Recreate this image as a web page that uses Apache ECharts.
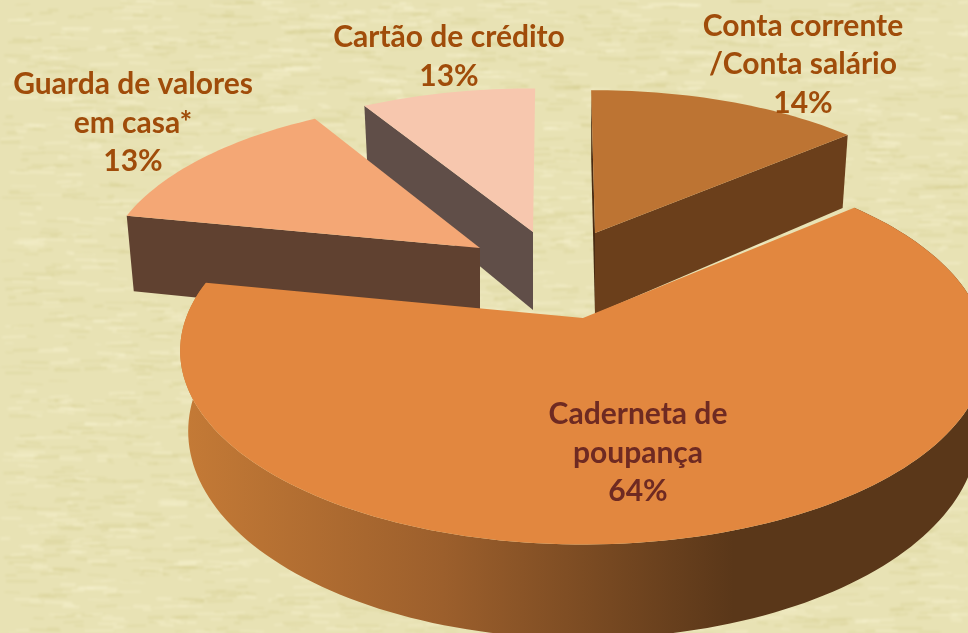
<!DOCTYPE html>
<html>
<head>
<meta charset="utf-8">
<title>Pie</title>
<script src="https://cdn.jsdelivr.net/npm/echarts@6/dist/echarts.min.js"></script>
<style>
html, body { margin: 0; padding: 0; background: #e8e2b4; }
#chart { width: 968px; height: 633px; }
</style>
</head>
<body>
<div id="chart"></div>
<script>
// data
var categories = ['Conta corrente\n/Conta salário', 'Caderneta de\npoupança', 'Guarda de valores\nem casa*', 'Cartão de crédito'];
var printedPercent = [14, 64, 13, 13];
// the wedges as drawn: the last one is visibly narrower than its printed 13%
var drawnShare = [13.9, 64.4, 13.4, 8.6];

// layout of each exploded wedge, same order as the data
var wedgeLayout = [
    {cx: 595, cy: 233, rx: 370, ry: 167, depth: 81, z: 3, top: '#bd7433', side: '#6b3f1b', startSide: '#4a2b12'},
    {cx: 583, cy: 318, rx: 397, ry: 188, depth: 78, z: 4, top: '#e2873f'},
    {cx: 480, cy: 248, rx: 372, ry: 172, depth: 78, z: 2, top: '#f4a775', side: '#604130'},
    {cx: 533, cy: 232, rx: 380, ry: 168, depth: 78, z: 1, top: '#f7c7ae', side: '#604e48'}
];
var labelLayout = [
    {x: 803, y: 64.5, color: '#a04c0a'},
    {x: 638, y: 453, color: '#6e2a22'},
    {x: 133, y: 123, color: '#a04c0a'},
    {x: 449, y: 57, color: '#a04c0a'}
];

var START_ANGLE = -0.7;
var PERSPECTIVE = 0.17; // front of the disc is nearer to the viewer
var SIDE_SHRINK = 0.98; // bottom edge of the disc narrows a little

var startAngles = [];
(function () {
    var a = START_ANGLE;
    for (var i = 0; i < drawnShare.length; i++) {
        startAngles.push(a);
        a += drawnShare[i] * 3.6;
    }
})();

// angle in degrees clockwise from the back of the disc
function project(p, deg, lower) {
    var t = deg * Math.PI / 180;
    var u = Math.sin(t), v = -Math.cos(t);
    var w = 1 - PERSPECTIVE * v;
    var dx = p.rx * u / w, dy = p.ry * v / w;
    if (lower) {
        return [p.cx + dx * SIDE_SHRINK, p.cy + dy + p.depth / w];
    }
    return [p.cx + dx, p.cy + dy];
}

function arcPoints(p, from, to, lower) {
    var pts = [], n = Math.ceil(Math.abs(to - from) / 1.5);
    for (var i = 0; i <= n; i++) {
        pts.push(project(p, from + (to - from) * i / n, lower));
    }
    return pts;
}

function polygon(points, fill, z2) {
    return {type: 'polygon', z2: z2, shape: {points: points}, style: {fill: fill}};
}

function renderWedge(params, api) {
    var i = params.dataIndex;
    var p = wedgeLayout[i];
    var from = startAngles[i];
    var to = from + api.value(0) * 3.6;
    var apex = [p.cx, p.cy];
    var apexLow = [p.cx, p.cy + p.depth];
    var children = [];

    if (i === 1) {
        // big wedge: only the curved rim is visible
        var rim = new echarts.graphic.LinearGradient(185, 0, 968, 0, [
            {offset: 0, color: '#c47a36'},
            {offset: 0.33, color: '#9c5f2c'},
            {offset: 0.7, color: '#5a3719'},
            {offset: 1, color: '#5a3719'}
        ], true);
        children.push(polygon(arcPoints(p, from, to, false).concat(arcPoints(p, to, from, true)), rim, p.z * 10));
    } else {
        // flat cut face that looks at the viewer
        var faceAngle = i === 0 ? to : from;
        children.push(polygon([apex, project(p, faceAngle, false), project(p, faceAngle, true), apexLow], p.side, p.z * 10));
        if (p.startSide) {
            children.push(polygon([apex, project(p, from, false), project(p, from, true), apexLow], p.startSide, p.z * 10));
        }
    }
    children.push(polygon([apex].concat(arcPoints(p, from, to, false)), p.top, p.z * 10 + 1));

    var lab = labelLayout[i];
    children.push({
        type: 'text',
        z2: 100,
        x: lab.x,
        y: lab.y,
        style: {
            text: categories[i] + '\n' + printedPercent[i] + '%',
            fill: lab.color,
            font: 'bold 30px Lato, "Open Sans", sans-serif',
            lineHeight: 38.5,
            align: 'center',
            verticalAlign: 'middle'
        }
    });
    return {type: 'group', children: children};
}

// horizontal paper grain for the background
function paperTexture() {
    var c = document.createElement('canvas');
    c.width = 968;
    c.height = 633;
    var g = c.getContext('2d');
    g.fillStyle = '#e8e2b4';
    g.fillRect(0, 0, c.width, c.height);
    var seed = 12345;
    function next() {
        seed = (seed * 16807) % 2147483647;
        return seed / 2147483647;
    }
    for (var i = 0; i < 4500; i++) {
        var x = next() * c.width, y = next() * c.height;
        var len = 6 + next() * 26;
        var light = next() > 0.5;
        g.strokeStyle = light ? 'rgba(246,242,208,0.38)' : 'rgba(212,204,140,0.28)';
        g.lineWidth = 1 + next() * 2.5;
        g.beginPath();
        g.moveTo(x, y);
        g.lineTo(x + len, y + (next() - 0.5) * 3);
        g.stroke();
    }
    // soften once, the whole sheet in a single pass
    var soft = document.createElement('canvas');
    soft.width = c.width;
    soft.height = c.height;
    var s = soft.getContext('2d');
    s.filter = 'blur(1px)';
    s.drawImage(c, 0, 0);
    return soft;
}

var chart = echarts.init(document.getElementById('chart'));
chart.setOption({
    animation: false,
    backgroundColor: {image: paperTexture(), repeat: 'no-repeat'},
    series: [{
        type: 'custom',
        coordinateSystem: 'none',
        silent: true,
        renderItem: renderWedge,
        data: drawnShare.map(function (v) { return [v]; })
    }]
});
</script>
</body>
</html>
